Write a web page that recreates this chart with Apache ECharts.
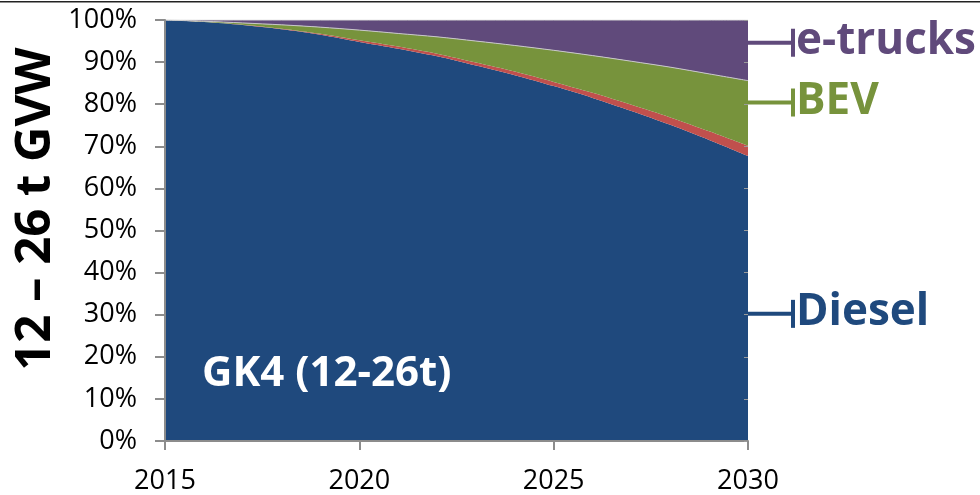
<!DOCTYPE html>
<html>
<head>
<meta charset="utf-8">
<script src="https://cdn.jsdelivr.net/npm/echarts@6/dist/echarts.min.js"></script>
<style>
  html, body { margin: 0; padding: 0; background: #ffffff; }
  #chart { width: 980px; height: 495px; }
</style>
</head>
<body>
<div id="chart"></div>
<script>
// Market share of drive trains, 12-26 t trucks, stacked to 100 %
const years = ['2015', '2016', '2017', '2018', '2019', '2020', '2021', '2022',
               '2023', '2024', '2025', '2026', '2027', '2028', '2029', '2030'];
const diesel  = [100, 99.5, 98.8, 97.8, 96.5, 94.8, 93.2, 91.4, 89.2, 86.9, 84.3, 81.5, 78.4, 75.1, 71.5, 67.7];
const hybrid  = [0, 0.05, 0.1, 0.15, 0.25, 0.4, 0.5, 0.6, 0.7, 0.85, 1.0, 1.2, 1.45, 1.75, 2.05, 2.4];
const bev     = [0, 0.15, 0.4, 0.9, 1.55, 2.4, 3.1, 4.0, 5.1, 6.2, 7.5, 8.85, 10.35, 11.95, 13.65, 15.5];
const eTrucks = [0, 0.3, 0.7, 1.15, 1.7, 2.4, 3.2, 4.0, 5.0, 6.05, 7.2, 8.45, 9.8, 11.2, 12.8, 14.4];

// Callout labels at the right edge: name and the share level they point to
const calloutNames  = ['Diesel', 'BEV', 'e-trucks'];
const calloutLevels = [30.2, 80.4, 94.6];

const yTicks = [0, 10, 20, 30, 40, 50, 60, 70, 80, 90, 100];

const COLORS = {
  diesel: '#1f497d',
  hybrid: '#c0504d',
  bev: '#77933c',
  eTrucks: '#604a7b'
};
const calloutColors = [COLORS.diesel, COLORS.bev, COLORS.eTrucks];
const FONT = '"Open Sans", "Noto Sans", sans-serif';

const chart = echarts.init(document.getElementById('chart'), null, { renderer: 'canvas' });

function areaSeries(name, data, color, edge) {
  return {
    name: name,
    type: 'line',
    stack: 'share',
    data: data,
    smooth: 0.3,
    symbol: 'none',
    areaStyle: { color: color, opacity: 1 },
    lineStyle: edge ? { color: edge, width: 1 } : { width: 0 },
    itemStyle: { color: color },
    emphasis: { disabled: true },
    z: 2
  };
}

chart.setOption({
  animation: false,
  backgroundColor: '#ffffff',
  grid: { left: 165, right: 232, top: 20, bottom: 54, containLabel: false },
  xAxis: {
    type: 'category',
    data: years,
    boundaryGap: false,
    axisLine: { lineStyle: { color: '#8c8c8c', width: 2 } },
    axisTick: { show: true, interval: 4, length: 9, lineStyle: { color: '#8c8c8c', width: 2 } },
    axisLabel: { interval: 4, color: '#000', fontFamily: FONT, fontSize: 27, margin: 27 },
    splitLine: { show: false },
    z: 5
  },
  yAxis: [{
    type: 'value',
    min: yTicks[0],
    max: yTicks[yTicks.length - 1],
    interval: 10,
    axisLine: { show: true, lineStyle: { color: '#8c8c8c', width: 2 } },
    axisTick: { show: true, length: 10, lineStyle: { color: '#8c8c8c', width: 2 } },
    axisLabel: { formatter: '{value}%', color: '#000', fontFamily: FONT, fontSize: 27, margin: 28 },
    splitLine: { show: false },
    z: 5
  }, {
    type: 'value',
    position: 'right',
    min: yTicks[0],
    max: yTicks[yTicks.length - 1],
    interval: 10,
    axisLine: { show: false },
    axisTick: { show: true, inside: true, length: 4, lineStyle: { color: '#9a9a9a', width: 1 } },
    axisLabel: { show: false },
    splitLine: { show: false },
    z: 5
  }],
  series: [
    areaSeries('Diesel', diesel, COLORS.diesel, null),
    areaSeries('Hybrid', hybrid, COLORS.hybrid, null),
    areaSeries('BEV', bev, COLORS.bev, '#c8c8c8'),
    areaSeries('e-trucks', eTrucks, COLORS.eTrucks, '#d4d4d4')
  ]
});

// Callouts, category title and axis title placed through the axis scales
const xEnd = chart.convertToPixel({ xAxisIndex: 0 }, years[years.length - 1]);
const xStart = chart.convertToPixel({ xAxisIndex: 0 }, years[0]);
const graphics = [];

// thin rule across the top of the figure
graphics.push({
  type: 'rect',
  shape: { x: 0, y: 1, width: 980, height: 1.6 },
  style: { fill: '#222' },
  silent: true
});

calloutNames.forEach(function (name, i) {
  const y = chart.convertToPixel({ yAxisIndex: 0 }, calloutLevels[i]);
  const c = calloutColors[i];
  graphics.push({
    type: 'rect',
    shape: { x: xEnd, y: y - 2, width: 44, height: 4 },
    style: { fill: c },
    silent: true
  });
  graphics.push({
    type: 'rect',
    shape: { x: xEnd + 43, y: y - 14, width: 4, height: 28 },
    style: { fill: c },
    silent: true
  });
  graphics.push({
    type: 'text',
    x: xEnd + 48,
    y: y - 1,
    style: {
      text: name,
      fill: c,
      font: 'bold 44px ' + FONT,
      textAlign: 'left',
      textVerticalAlign: 'middle'
    },
    silent: true
  });
});

// category title inside the plot
graphics.push({
  type: 'text',
  x: xStart + 37,
  y: chart.convertToPixel({ yAxisIndex: 0 }, 16),
  style: {
    text: 'GK4 (12-26t)',
    fill: '#ffffff',
    font: 'bold 42px ' + FONT,
    textAlign: 'left',
    textVerticalAlign: 'middle'
  },
  z: 10,
  silent: true
});

// vertical axis title
graphics.push({
  type: 'text',
  x: 36,
  y: 209,
  rotation: Math.PI / 2,
  style: {
    text: '12 – 26 t GVW',
    fill: '#000000',
    font: 'bold 49px ' + FONT,
    textAlign: 'center',
    textVerticalAlign: 'middle'
  },
  silent: true
});

chart.setOption({ graphic: graphics });
</script>
</body>
</html>
